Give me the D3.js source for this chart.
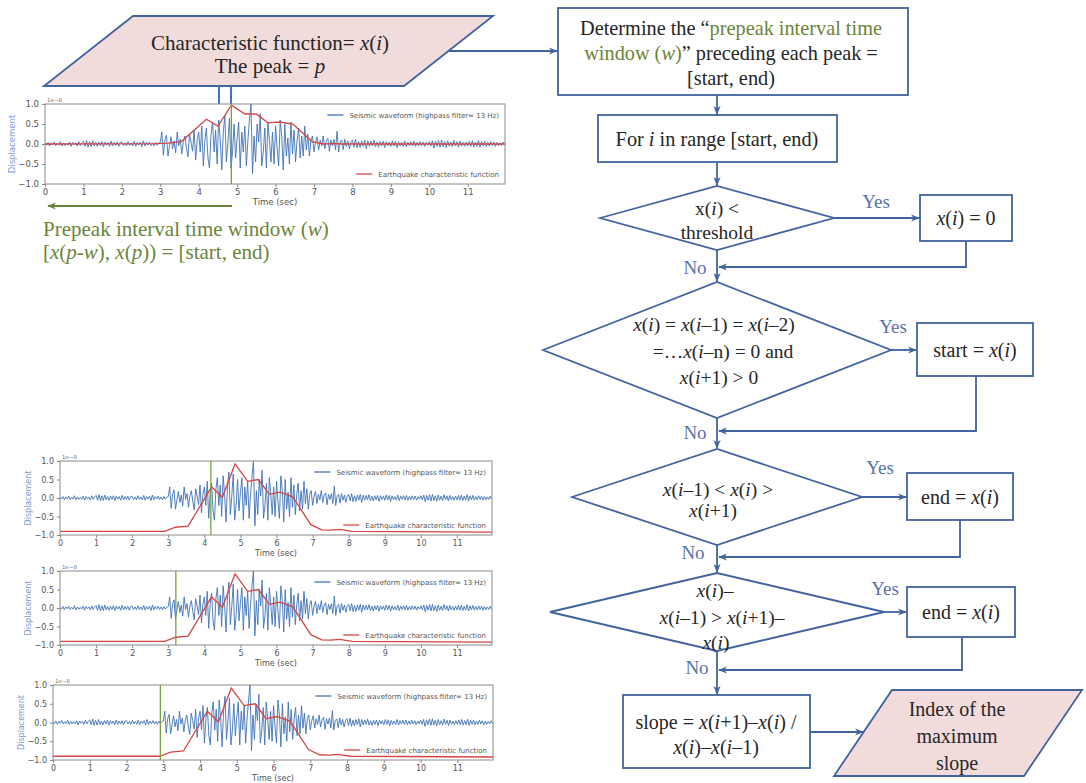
<!DOCTYPE html>
<html>
<head>
<meta charset="utf-8">
<script src="https://d3js.org/d3.v7.min.js"></script>
<style>
  body { margin: 0; background: #fff; }
  svg { display: block; }
  text { white-space: pre; }
  .serif { font-family: "Liberation Serif", "Times New Roman", serif; fill: #262626; }
  .plot text { font-family: "DejaVu Sans", sans-serif; }
</style>
</head>
<body>
<div class="flow"></div>
<script>
// seismic waveform (x 1e-8), one sample every 0.04 s from t = 0
var sampleStep = 0.04;
var waveform = [
  0.02,-0.03,0.04,-0.05,0.03,-0.02,0.05,-0.04,0.02,-0.03,0.06,-0.05,0.03,-0.04,0.02,-0.03,0.05,-0.06,0.04,-0.02,0.03,-0.05,0.06,-0.04,0.03,
  0.07,-0.06,0.09,-0.08,0.06,-0.07,0.08,-0.05,0.04,-0.06,0.05,-0.04,0.06,-0.07,0.05,-0.03,0.04,-0.06,0.07,-0.05,0.04,-0.04,0.05,-0.06,0.04,
  0.05,-0.04,0.03,-0.05,0.06,-0.04,0.03,-0.05,0.07,-0.06,0.04,-0.03,0.05,-0.07,0.08,-0.05,0.04,-0.03,0.05,-0.04,0.03,-0.05,0.04,-0.03,0.02,
  0.04,0.3,-0.28,0.1,0.22,-0.3,-0.05,0.18,-0.12,0.08,-0.22,0.3,-0.04,0.12,-0.25,0.06,0.2,-0.1,-0.32,0.25,0.05,-0.18,0.35,-0.4,0.1,
  0.3,-0.2,0.45,-0.55,0.1,0.4,-0.35,-0.6,0.25,0.55,-0.2,0.35,-0.5,0.6,0.1,-0.65,0.3,0.7,-0.45,0.05,0.65,-0.6,-0.2,0.5,-0.35,
  0.15,0.55,-0.6,0.3,-0.2,0.45,-0.55,0.1,0.6,1.0,-0.75,0.2,-0.45,0.5,0.05,0.75,-0.55,-0.2,0.4,-0.6,0.55,0.1,-0.45,0.3,-0.5,
  0.45,-0.1,-0.55,0.6,0.2,-0.65,0.5,-0.3,0.15,-0.5,0.55,-0.25,0.35,-0.45,0.1,0.4,-0.35,0.2,-0.3,0.45,-0.15,0.25,-0.3,0.1,0.2,
  -0.2,0.05,0.18,-0.15,0.1,-0.05,0.2,-0.12,0.08,0.14,-0.18,0.1,-0.04,0.12,-0.15,0.32,-0.2,0.05,0.1,-0.14,0.12,-0.06,0.08,-0.12,0.05,
  0.1,-0.08,0.12,-0.1,0.06,-0.09,0.08,-0.06,0.1,-0.12,0.08,-0.06,0.07,-0.05,0.09,-0.07,0.05,-0.08,0.06,-0.05,0.07,-0.09,0.06,-0.04,0.05,
  -0.06,0.08,-0.05,0.07,-0.09,0.06,-0.05,0.04,-0.06,0.08,-0.07,0.05,-0.04,0.06,-0.05,0.07,-0.06,0.04,-0.05,0.06,-0.04,0.05,-0.06,0.04,-0.03,
  0.06,-0.05,0.08,-0.1,0.07,-0.06,0.09,-0.08,0.1,-0.07,0.06,-0.09,0.08,-0.06,0.05,-0.07,0.09,-0.05,0.06,-0.08,0.07,-0.05,0.04,-0.06,0.05,
  -0.05,0.07,-0.06,0.08,-0.07,0.05,-0.06,0.09,-0.08,0.06,-0.05,0.07,-0.06,0.04,-0.05,0.06,-0.04,0.05,-0.06,0.04,-0.05,0.03,-0.04,0.05,-0.03
];

// earthquake characteristic function, knots in seconds
var cfTimes = [0, 2.9, 3.2, 3.55, 4.2, 4.5, 4.85, 5.2, 5.5, 5.8, 6.1, 6.45, 6.95, 7.25, 7.5, 7.75, 8.1, 12];
var cfTop   = [0.0, 0.01, 0.02, 0.06, 0.62, 0.45, 0.97, 0.75, 0.75, 0.53, 0.55, 0.5, 0.06, 0.0, 0.01, 0.0, 0.0, 0.0];
var cfLow   = [-0.9, -0.9, -0.79, -0.76, 0.3, 0.02, 0.92, 0.45, 0.5, 0.1, 0.16, 0.03, -0.72, -0.86, -0.87, -0.85, -0.9, -0.92];

// green marker (prepeak window edge) for each panel
var markTimes = [4.85, 4.18, 3.21, 2.92];

var xTicks = [0, 1, 2, 3, 4, 5, 6, 7, 8, 9, 10, 11];
var yTicks = [-1.0, -0.5, 0.0, 0.5, 1.0];

var legendLabels = ["Seismic waveform (highpass filter= 13 Hz)", "Earthquake characteristic function"];

var FLOW = "#41639f", GREEN = "#6b843a", LABEL = "#5673ab", PINK = "#f2dcdb";

var svg = d3.select(".flow").append("svg")
  .attr("width", 1086).attr("height", 783);

var defs = svg.append("defs");
function marker(id, col) {
  defs.append("marker")
    .attr("id", id).attr("viewBox", "0 0 10 10")
    .attr("refX", 9).attr("refY", 5)
    .attr("markerUnits", "userSpaceOnUse")
    .attr("markerWidth", 9).attr("markerHeight", 9)
    .attr("orient", "auto")
    .append("path").attr("d", "M0,1 L10,5 L0,9 L3,5 z").attr("fill", col);
}
marker("arr", FLOW);
marker("arrG", GREEN);

// text with *italic* and ~green~ toggles
function richText(g, str, x, y, size, anchor) {
  var t = g.append("text").attr("class", "serif")
    .attr("x", x).attr("y", y)
    .attr("text-anchor", anchor || "middle")
    .style("font-size", size + "px");
  var italic = false, green = false, buf = "";
  function flush() {
    if (!buf) return;
    var s = t.append("tspan").text(buf).style("font-style", italic ? "italic" : "normal");
    if (green) s.attr("fill", GREEN);
    buf = "";
  }
  for (var ch of str) {
    if (ch === "*") { flush(); italic = !italic; }
    else if (ch === "~") { flush(); green = !green; }
    else buf += ch;
  }
  flush();
  return t;
}

function lines(g, arr, cx, cy, size, gap, anchor) {
  var y0 = cy - (arr.length - 1) * gap / 2;
  arr.forEach(function (s, i) {
    richText(g, s, cx, y0 + i * gap + size * 0.34, size, anchor);
  });
}

var flow = svg.append("g");

function box(x0, y0, x1, y1) {
  flow.append("rect").attr("x", x0).attr("y", y0)
    .attr("width", x1 - x0).attr("height", y1 - y0)
    .attr("fill", "#fff").attr("stroke", FLOW).attr("stroke-width", 1.8);
}
function diamond(cx, cy, hw, hh) {
  flow.append("path")
    .attr("d", `M${cx - hw},${cy} L${cx},${cy - hh} L${cx + hw},${cy} L${cx},${cy + hh} Z`)
    .attr("fill", "#fff").attr("stroke", FLOW).attr("stroke-width", 1.8);
}
function para(pts) {
  flow.append("path").attr("d", "M" + pts.join("L") + "Z")
    .attr("fill", PINK).attr("stroke", FLOW).attr("stroke-width", 1.8);
}
function arrow(pts, col, mk) {
  flow.append("path").attr("d", "M" + pts.join("L"))
    .attr("fill", "none").attr("stroke", col || FLOW).attr("stroke-width", 1.8)
    .attr("marker-end", "url(#" + (mk || "arr") + ")");
}
function label(txt, x, y) {
  flow.append("text").attr("class", "serif").attr("x", x).attr("y", y + 6)
    .attr("text-anchor", "middle").style("font-size", "19px")
    .attr("fill", LABEL).style("fill", LABEL).text(txt);
}

// input parallelogram
para([[133, 16], [493, 16], [404, 86], [44, 86]]);
lines(flow, ["Characteristic function= *x*(*i*)", "The peak = *p*"], 270, 54, 21, 23);

// top flow
box(558, 8, 908, 95);
lines(flow, ["Determine the “~prepeak interval time~", "~window (*w*)~” preceding each peak =", "[start, end)"], 731, 53, 20.3, 25);
box(598, 115, 837, 162);
lines(flow, ["For *i* in range [start, end)"], 717, 139, 20.3, 24);

diamond(717, 218, 117, 32);
lines(flow, ["x(*i*) <", "threshold"], 717, 220, 19.5, 24);
box(920, 195, 1012, 241);
lines(flow, ["*x*(*i*) = 0"], 966, 218, 20, 24);

diamond(717, 350, 174, 68);
lines(flow, ["*x*(*i*) = *x*(*i*–1) = *x*(*i*–2)"], 714, 324, 19.5, 24);
lines(flow, ["=…*x*(*i*–n) = 0 and"], 723, 351, 19.5, 24);
lines(flow, ["*x*(*i*+1) > 0"], 719, 377, 19.5, 24);
box(917, 323, 1033, 376);
lines(flow, ["start = *x*(*i*)"], 975, 350, 20, 24);

diamond(717, 497, 145, 48);
lines(flow, ["*x*(*i*–1) < *x*(*i*) >"], 718, 489, 19.5, 24);
lines(flow, ["*x*(*i*+1)"], 713, 510, 19.5, 24);
box(907, 473, 1013, 520);
lines(flow, ["end = *x*(*i*)"], 960, 497, 20, 24);

diamond(717, 612, 167, 39);
lines(flow, ["*x*(*i*)–"], 715, 590, 19.5, 24);
lines(flow, ["*x*(*i*–1) > *x*(*i*+1)–"], 722, 617, 19.5, 24);
lines(flow, ["*x*(*i*)"], 716, 642, 19.5, 24);
box(907, 587, 1015, 637);
lines(flow, ["end = *x*(*i*)"], 961, 612, 20, 24);

box(623, 695, 810, 768);
lines(flow, ["slope = *x*(*i*+1)–*x*(*i*) /", "*x*(*i*)–*x*(*i*–1)"], 716, 735, 20, 25);

para([[892, 690], [1082, 690], [1024, 776], [834, 776]]);
lines(flow, ["Index of the", "maximum", "slope"], 957, 736, 20, 27);

// connectors
arrow([[449, 51], [557, 51]]);
arrow([[717, 95], [717, 114]]);
arrow([[717, 162], [717, 185]]);
arrow([[833, 218], [919, 218]]);
arrow([[966, 241], [966, 267], [719, 267]]);
arrow([[717, 250], [717, 281]]);
arrow([[891, 350], [916, 350]]);
arrow([[976, 376], [976, 431], [719, 431]]);
arrow([[717, 418], [717, 448]]);
arrow([[862, 497], [906, 497]]);
arrow([[960, 520], [960, 557], [719, 557]]);
arrow([[717, 545], [717, 572]]);
arrow([[884, 612], [906, 612]]);
arrow([[962, 637], [962, 670], [719, 670]]);
arrow([[717, 651], [717, 694]]);
arrow([[810, 732], [863, 732]]);

label("Yes", 876, 202); label("No", 695, 268);
label("Yes", 893, 327); label("No", 695, 433);
label("Yes", 880, 468); label("No", 693, 553);
label("Yes", 885, 589); label("No", 697, 668);

// short connectors from the input shape down to the first plot
flow.append("line").attr("x1", 219).attr("x2", 219).attr("y1", 86).attr("y2", 104)
  .attr("stroke", "#4472c4").attr("stroke-width", 2);
flow.append("line").attr("x1", 231).attr("x2", 231).attr("y1", 86).attr("y2", 104)
  .attr("stroke", "#4472c4").attr("stroke-width", 2);

// prepeak window annotation
arrow([[232, 206], [48, 206]], GREEN, "arrG");
richText(flow, "Prepeak interval time window (*w*)", 43, 236, 21, "start").attr("fill", GREEN).style("fill", GREEN);
richText(flow, "[*x*(*p-w*), *x*(*p*)) = [start, end)", 43, 259, 21, "start").attr("fill", GREEN).style("fill", GREEN);

// seismic panels
var panels = [
  { left: 45, right: 505, top: 104, bottom: 184, cf: cfTop, mark: markTimes[0], ylab: 15, fs: 8.5 },
  { left: 60, right: 492, top: 461, bottom: 535, cf: cfLow, mark: markTimes[1], ylab: 31, fs: 8 },
  { left: 60, right: 492, top: 571, bottom: 645, cf: cfLow, mark: markTimes[2], ylab: 31, fs: 8 },
  { left: 53, right: 493, top: 685, bottom: 760, cf: cfLow, mark: markTimes[3], ylab: 24, fs: 8 }
];

var wavePts = waveform.map(function (v, i) { return [i * sampleStep, v]; });

panels.forEach(function (p, k) {
  var g = svg.append("g").attr("class", "plot");
  var x = d3.scaleLinear().domain([0, 11.97]).range([p.left, p.right]);
  var y = d3.scaleLinear().domain([-1, 1]).range([p.bottom, p.top]);

  g.append("clipPath").attr("id", "clip" + k).append("rect")
    .attr("x", p.left).attr("y", p.top)
    .attr("width", p.right - p.left).attr("height", p.bottom - p.top);

  var line = d3.line().x(function (d) { return x(d[0]); }).y(function (d) { return y(d[1]); });
  var body = g.append("g").attr("clip-path", "url(#clip" + k + ")");

  body.append("path").datum(wavePts).attr("d", line)
    .attr("fill", "none").attr("stroke", "#3f73b5").attr("stroke-width", 0.9);
  body.append("path").datum(cfTimes.map(function (t, i) { return [t, p.cf[i]]; })).attr("d", line)
    .attr("fill", "none").attr("stroke", "#d64545").attr("stroke-width", 1.3);
  body.append("line").attr("x1", x(p.mark)).attr("x2", x(p.mark))
    .attr("y1", p.top).attr("y2", p.bottom)
    .attr("stroke", "#7aa03c").attr("stroke-width", 1.3);

  g.append("rect").attr("x", p.left).attr("y", p.top)
    .attr("width", p.right - p.left).attr("height", p.bottom - p.top)
    .attr("fill", "none").attr("stroke", "#8a8a8a").attr("stroke-width", 1);

  var ax = g.append("g").attr("transform", `translate(0,${p.bottom})`)
    .call(d3.axisBottom(x).tickValues(xTicks).tickSize(3).tickPadding(2).tickFormat(d3.format("d")));
  var ay = g.append("g").attr("transform", `translate(${p.left},0)`)
    .call(d3.axisLeft(y).tickValues(yTicks).tickSize(3).tickFormat(d3.format(".1f")));
  [ax, ay].forEach(function (a) {
    a.select(".domain").remove();
    a.selectAll("line").attr("stroke", "#888");
    a.selectAll("text").attr("fill", "#555").style("font-size", p.fs + "px");
  });

  g.append("text").attr("x", p.left + 2).attr("y", p.top - 2)
    .attr("fill", "#777").style("font-size", "5.5px").text("1e−8");
  g.append("text").attr("x", (p.left + p.right) / 2).attr("y", p.bottom + 21)
    .attr("text-anchor", "middle").attr("fill", "#555").style("font-size", p.fs + "px").text("Time (sec)");
  g.append("text").attr("transform", `translate(${p.ylab},${(p.top + p.bottom) / 2}) rotate(-90)`)
    .attr("text-anchor", "middle").attr("fill", "#7b9bd1").style("font-size", p.fs + "px").text("Displacement");

  // legend
  var lg = [[legendLabels[0], "#3f73b5", p.top + 11], [legendLabels[1], "#d64545", p.bottom - 10]];
  lg.forEach(function (l) {
    var t = g.append("text").attr("x", p.right - 6).attr("y", l[2] + 2.5)
      .attr("text-anchor", "end").attr("fill", "#555").style("font-size", "7px").text(l[0]);
    var w = t.node().getComputedTextLength();
    g.append("line").attr("x1", p.right - 6 - w - 22).attr("x2", p.right - 6 - w - 6)
      .attr("y1", l[2]).attr("y2", l[2]).attr("stroke", l[1]).attr("stroke-width", 1.3);
  });
});
</script>
</body>
</html>
